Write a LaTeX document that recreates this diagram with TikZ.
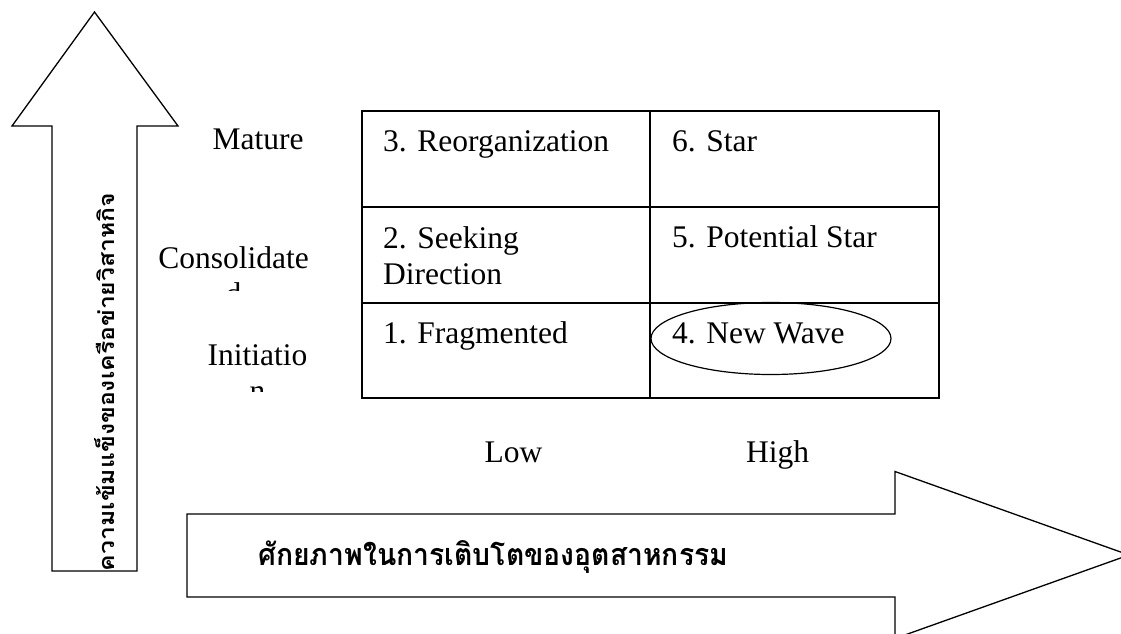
\documentclass[tikz,border=0pt]{standalone}
\usepackage{fontspec}
\setmainfont{Liberation Serif}
\newfontfamily\thaifont[Script=Thai]{Loma}
\usetikzlibrary{shapes.geometric}
\begin{document}
\begin{tikzpicture}[x=1pt,y=-1pt,
  lbl/.style={font=\fontsize{31.5}{36.5}\selectfont, inner sep=0pt},
  cell/.style={lbl, anchor=base west},
  axis/.style={lbl, anchor=base},
  grid/.style={line width=1.6pt},
  bigarrow/.style={line width=1.3pt, line join=miter},
  thai/.style={inner sep=0pt, font=\thaifont\bfseries}]
\clip (0,0) rectangle (1121,634);
\fill[white] (0,0) rectangle (1121,634);

% vertical arrow
\draw[bigarrow] (52,571) -- (52,126) -- (12,126) -- (94.5,12) -- (178,126) -- (137,126) -- (137,571) -- cycle;
\node[thai, rotate=90, anchor=base] (ylab) at (114,382)
  {\resizebox{378pt}{20pt}{ความเข้มแข็งของเครือข่ายวิสาหกิจ}};

% horizontal arrow
\draw[bigarrow] (187,597) -- (187,514) -- (895,514) -- (895,471.5) -- (1129,555) -- (895,638.5) -- (895,597) -- cycle;
\node[thai, anchor=base west] (xlab) at (258,565)
  {\resizebox{470pt}{25pt}{ศักยภาพในการเติบโตของอุตสาหกรรม}};

% matrix
\draw[grid] (362,111) rectangle (939,398);
\draw[grid] (362,207) -- (939,207);
\draw[grid] (362,303) -- (939,303);
\draw[grid] (650,111) -- (650,398);

\node[cell] (c3) at (383,151) {3. Reorganization};
\node[cell] (c6) at (672,151) {6. Star};
\node[cell] (c2) at (383,248) {\begin{tabular}[t]{@{}l@{}}2. Seeking\\Direction\end{tabular}};
\node[cell] (c5) at (672,247) {5. Potential Star};
\node[cell] (c1) at (383,343) {1. Fragmented};
\node[cell] (c4) at (672,343) {4. New Wave};
\node[draw, ellipse, line width=1.2pt, minimum width=240pt, minimum height=72pt, inner sep=0pt] (ring) at (771,338.5) {};

% row labels
\node[axis] (mature) at (258,149) {Mature};
\begin{scope}
  \clip (140,200) rectangle (360,290);
  \node[axis] (consol) at (233.5,268) {\begin{tabular}[t]{@{}c@{}}Consolidate\\d\end{tabular}};
\end{scope}
\begin{scope}
  \clip (140,300) rectangle (360,391);
  \node[axis] (init) at (257.5,365) {\begin{tabular}[t]{@{}c@{}}Initiatio\\n\end{tabular}};
\end{scope}

% column labels
\node[axis] (low) at (513.5,462) {Low};
\node[axis] (high) at (777.5,462) {High};
\end{tikzpicture}
\end{document}
